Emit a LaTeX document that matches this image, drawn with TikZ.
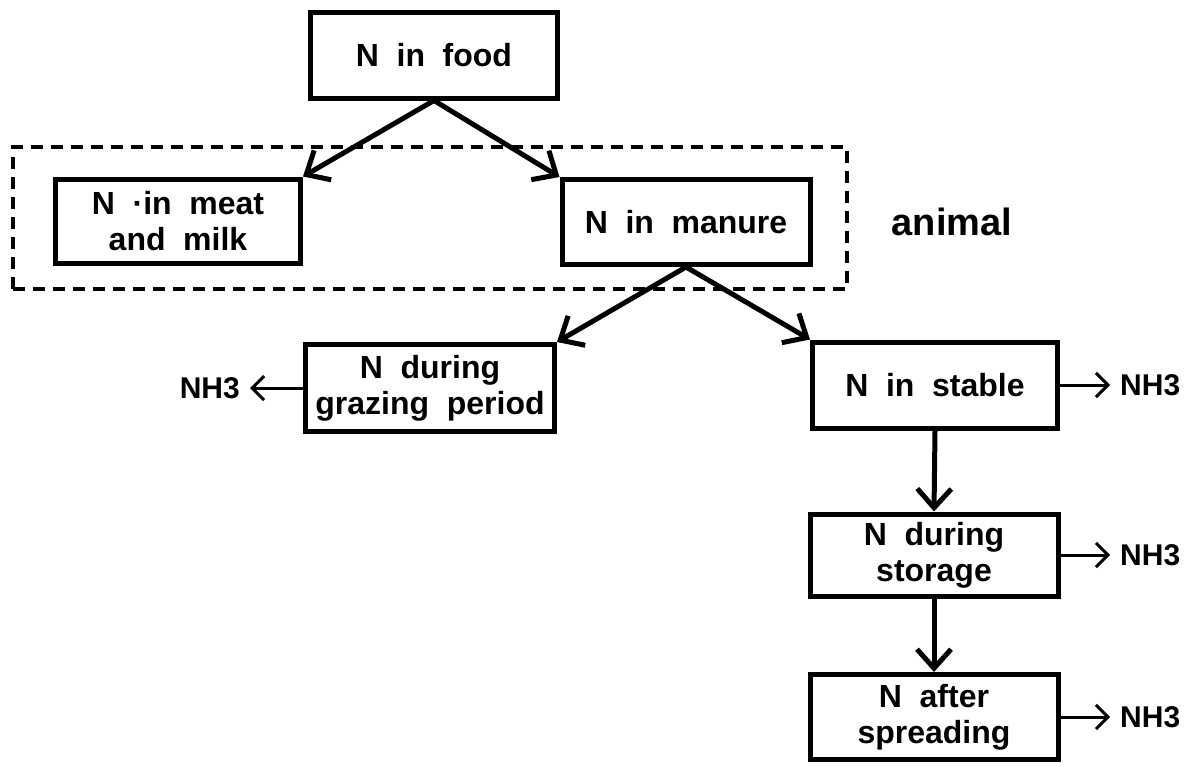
\documentclass[tikz,border=0pt]{standalone}
\usepackage{fontspec}
\setmainfont{Liberation Sans}
\usetikzlibrary{arrows.meta}
\newcommand\boxfont{\fontsize{32}{36}\selectfont\bfseries\spaceskip=0.55em\relax}
\newcommand\gasfont{\fontsize{30}{32}\selectfont\bfseries}
\newcommand\labelfont{\fontsize{38}{40}\selectfont\bfseries}
\begin{document}
\begin{tikzpicture}[x=1pt,y=-1pt,
  box/.style={draw, line width=5pt, align=center, font=\boxfont, inner sep=0pt},
  flow/.style={-{Straight Barb[length=19pt,width=34pt,line width=5pt]}, line width=5pt},
  loss/.style={-{Straight Barb[length=12pt,width=24pt,line width=3pt]}, line width=3pt},
  gas/.style={font=\gasfont, inner sep=0pt},
  group/.style={draw, dash pattern=on 12pt off 8pt, line width=4pt, inner sep=0pt}]
\useasboundingbox[fill=white] (0,0) rectangle (1188,766);
% animal group frame
\node[group, minimum width=834pt, minimum height=142pt] (animalgroup) at (430,218) {};
\node[font=\labelfont, inner sep=0pt] (animal) at (952,222) {animal};
% boxes
\node[box, minimum width=247pt, minimum height=86pt] (food) at (434,55) {N in food};
\node[box, minimum width=245pt, minimum height=84pt] (meat) at (178,221) {N ·in meat\\and milk};
\node[box, minimum width=248pt, minimum height=85pt] (manure) at (686,222) {N in manure};
\node[box, minimum width=249pt, minimum height=87pt] (grazing) at (430,388) {N during\\grazing period};
\node[box, minimum width=245pt, minimum height=86pt] (stable) at (935,385) {N in stable};
\node[box, minimum width=248pt, minimum height=82pt] (storage) at (934,555) {N during\\storage};
\node[box, minimum width=248pt, minimum height=85pt] (spreading) at (934,717) {N after\\spreading};
% NH3 labels
\node[gas, anchor=east] (nh3a) at (240,388) {NH3};
\node[gas, anchor=west] (nh3b) at (1120,385) {NH3};
\node[gas, anchor=west] (nh3c) at (1120,555) {NH3};
\node[gas, anchor=west] (nh3d) at (1120,717) {NH3};
% flows
\draw[flow] (food.south) -- (meat.north east);
\draw[flow] (food.south) -- (manure.north west);
\draw[flow] (manure.south) -- (grazing.north east);
\draw[flow] (manure.south) -- (stable.north west);
\draw[flow] (stable.south) -- (storage.north);
\draw[flow] (storage.south) -- (spreading.north);
% losses
\draw[loss] (grazing.west) -- ([xshift=10pt]nh3a.east);
\draw[loss] (stable.east) -- ([xshift=-10pt]nh3b.west);
\draw[loss] (storage.east) -- ([xshift=-10pt]nh3c.west);
\draw[loss] (spreading.east) -- ([xshift=-10pt]nh3d.west);
\end{tikzpicture}
\end{document}
